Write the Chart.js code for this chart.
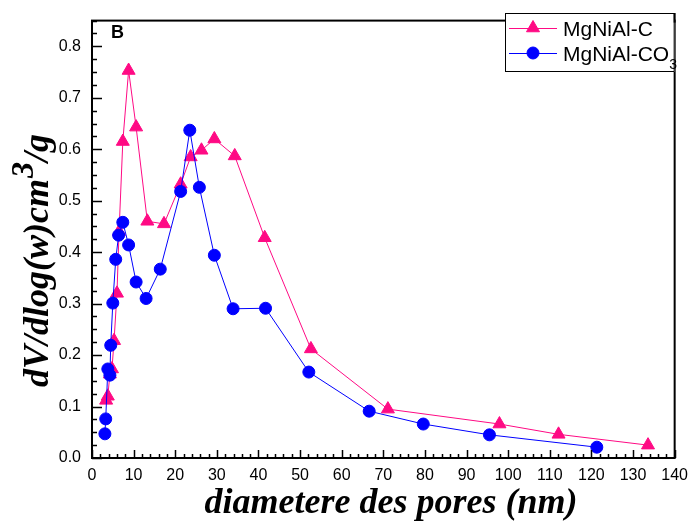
<!DOCTYPE html>
<html>
<head>
<meta charset="utf-8">
<script src="https://cdn.jsdelivr.net/npm/chart.js@4.4.0/dist/chart.umd.min.js"></script>
<style>
  html, body { margin: 0; padding: 0; background: #fff; }
  canvas { display: block; }
</style>
</head>
<body>
<canvas id="poreChart" width="696" height="524"></canvas>
<script>
// --- Data ---
const cDiam   = [3.4, 3.8, 4.3, 4.8, 5.3, 6.0, 6.5, 7.4, 8.8, 10.6, 13.3, 17.3, 21.3, 23.7, 26.3, 29.4, 34.3, 41.5, 52.6, 71.1, 97.9, 112.1, 133.6];
const cVol    = [0.112, 0.120, 0.163, 0.173, 0.228, 0.320, 0.440, 0.615, 0.753, 0.643, 0.460, 0.455, 0.532, 0.585, 0.598, 0.620, 0.587, 0.428, 0.212, 0.095, 0.066, 0.046, 0.025];
const co3Diam = [3.1, 3.3, 3.8, 4.3, 4.5, 5.0, 5.7, 6.4, 7.4, 8.8, 10.6, 13.0, 16.4, 21.3, 23.5, 25.8, 29.4, 33.9, 41.7, 52.1, 66.6, 79.6, 95.5, 121.3];
const co3Vol  = [0.047, 0.076, 0.173, 0.161, 0.219, 0.301, 0.386, 0.433, 0.458, 0.414, 0.342, 0.310, 0.367, 0.518, 0.637, 0.526, 0.394, 0.290, 0.291, 0.167, 0.091, 0.066, 0.045, 0.021];

const xTicks = [0, 10, 20, 30, 40, 50, 60, 70, 80, 90, 100, 110, 120, 130, 140];
const yTicks = [0, 0.1, 0.2, 0.3, 0.4, 0.5, 0.6, 0.7, 0.8];

const PINK = '#FF0A84';
const BLUE = '#0000FF';

const toPoints = (xs, ys) => xs.map((x, i) => ({ x, y: ys[i] }));

// frame, inward ticks, legend, titles
const decorations = {
  id: 'decorations',
  afterDraw(chart) {
    const { ctx, chartArea: a, scales: { x, y } } = chart;
    ctx.save();
    ctx.strokeStyle = '#000';

    // ticks (inside the box, bottom + left only)
    ctx.lineWidth = 1.5;
    ctx.beginPath();
    for (let v = 0; v <= 140; v += 2) {
      const px = Math.round(x.getPixelForValue(v)) + 0.5;
      const len = v % 10 === 0 ? 8 : 4;
      ctx.moveTo(px, a.bottom);
      ctx.lineTo(px, a.bottom - len);
    }
    for (let i = 0; i <= 34; i++) {
      const v = i * 0.025;
      const py = Math.round(y.getPixelForValue(v)) + 0.5;
      const len = i % 4 === 0 ? 10 : 5;
      ctx.moveTo(a.left, py);
      ctx.lineTo(a.left + len, py);
    }
    ctx.stroke();

    // frame
    ctx.lineWidth = 2;
    ctx.strokeRect(a.left, a.top, a.right - a.left, a.bottom - a.top);

    // panel letter
    ctx.fillStyle = '#000';
    ctx.font = 'bold 18px "Liberation Sans", Arial, sans-serif';
    ctx.textBaseline = 'alphabetic';
    ctx.textAlign = 'left';
    ctx.fillText('B', 111, 38);

    // legend box
    const lx = 505, ly = 13, lw = a.right - lx, lh = 59;
    ctx.fillStyle = '#fff';
    ctx.fillRect(lx, ly, lw, lh);
    ctx.lineWidth = 1;
    ctx.strokeRect(lx + 0.5, ly + 0.5, lw - 1, lh - 1);
    ctx.lineWidth = 2;
    ctx.beginPath();
    ctx.moveTo(a.right, ly);
    ctx.lineTo(a.right, a.top + 2);
    ctx.stroke();

    const rows = [
      { color: PINK, style: 'triangle', radius: 7.5, cy: 28, label: 'MgNiAl-C', sub: '' },
      { color: BLUE, style: 'circle', radius: 6, cy: 53, label: 'MgNiAl-CO', sub: '3' },
    ];
    rows.forEach(r => {
      ctx.strokeStyle = r.color;
      ctx.lineWidth = 1;
      ctx.beginPath();
      ctx.moveTo(509, r.cy + 0.5);
      ctx.lineTo(557, r.cy + 0.5);
      ctx.stroke();
      ctx.fillStyle = r.color;
      Chart.helpers.drawPoint(ctx, { pointStyle: r.style, radius: r.radius, rotation: 0, borderWidth: 1 }, 533, r.cy);
      ctx.fillStyle = '#000';
      ctx.font = '21px "Liberation Sans", Arial, sans-serif';
      ctx.fillText(r.label, 563, r.cy + 8);
      if (r.sub) {
        const w = ctx.measureText(r.label).width;
        ctx.font = '14px "Liberation Sans", Arial, sans-serif';
        ctx.fillText(r.sub, 563 + w, r.cy + 16);
      }
    });

    // axis titles
    const big = 'bold italic 36px "Liberation Serif", "Times New Roman", serif';
    ctx.fillStyle = '#000';
    ctx.font = big;
    ctx.textAlign = 'center';
    ctx.fillText('diametere des pores (nm)', 391, 513);

    ctx.translate(48, 387);
    ctx.rotate(-Math.PI / 2);
    ctx.textAlign = 'left';
    const t1 = 'dV/dlog(w)cm';
    ctx.fillText(t1, 0, 0);
    let off = ctx.measureText(t1).width + 1;
    ctx.font = 'bold italic 32px "Liberation Serif", "Times New Roman", serif';
    ctx.fillText('3', off, -15);
    off += ctx.measureText('3').width;
    ctx.font = big;
    ctx.fillText('/g', off, 0);

    ctx.restore();
  }
};

const tickFont = { family: '"Liberation Sans", Arial, sans-serif', size: 16 };

new Chart(document.getElementById('poreChart'), {
  type: 'scatter',
  data: {
    datasets: [
      {
        label: 'MgNiAl-C',
        data: toPoints(cDiam, cVol),
        showLine: true,
        borderColor: PINK,
        backgroundColor: PINK,
        borderWidth: 1,
        pointStyle: 'triangle',
        pointRadius: 7.5,
        pointBorderWidth: 1,
        order: 2,
      },
      {
        label: 'MgNiAl-CO3',
        data: toPoints(co3Diam, co3Vol),
        showLine: true,
        borderColor: BLUE,
        backgroundColor: BLUE,
        borderWidth: 1,
        pointStyle: 'circle',
        pointRadius: 6,
        pointBorderWidth: 1,
        order: 1,
      },
    ],
  },
  options: {
    responsive: false,
    animation: false,
    events: [],
    layout: { padding: { top: 20, right: 13, left: 0, bottom: 0 } },
    plugins: { legend: { display: false }, tooltip: { enabled: false } },
    scales: {
      x: {
        type: 'linear',
        min: 0,
        max: 140,
        afterBuildTicks: s => { s.ticks = xTicks.map(v => ({ value: v })); },
        afterFit: s => { s.height = 66; },
        grid: { display: false, drawTicks: false },
        border: { display: false },
        ticks: { color: '#000', font: tickFont, padding: 8, maxRotation: 0, callback: v => String(v) },
      },
      y: {
        type: 'linear',
        min: 0,
        max: 0.85,
        afterBuildTicks: s => { s.ticks = yTicks.map(v => ({ value: v })); },
        afterFit: s => { s.width = 92; },
        grid: { display: false, drawTicks: false },
        border: { display: false },
        ticks: { color: '#000', font: tickFont, padding: 11, callback: v => v.toFixed(1) },
      },
    },
  },
  plugins: [decorations],
});
</script>
</body>
</html>
